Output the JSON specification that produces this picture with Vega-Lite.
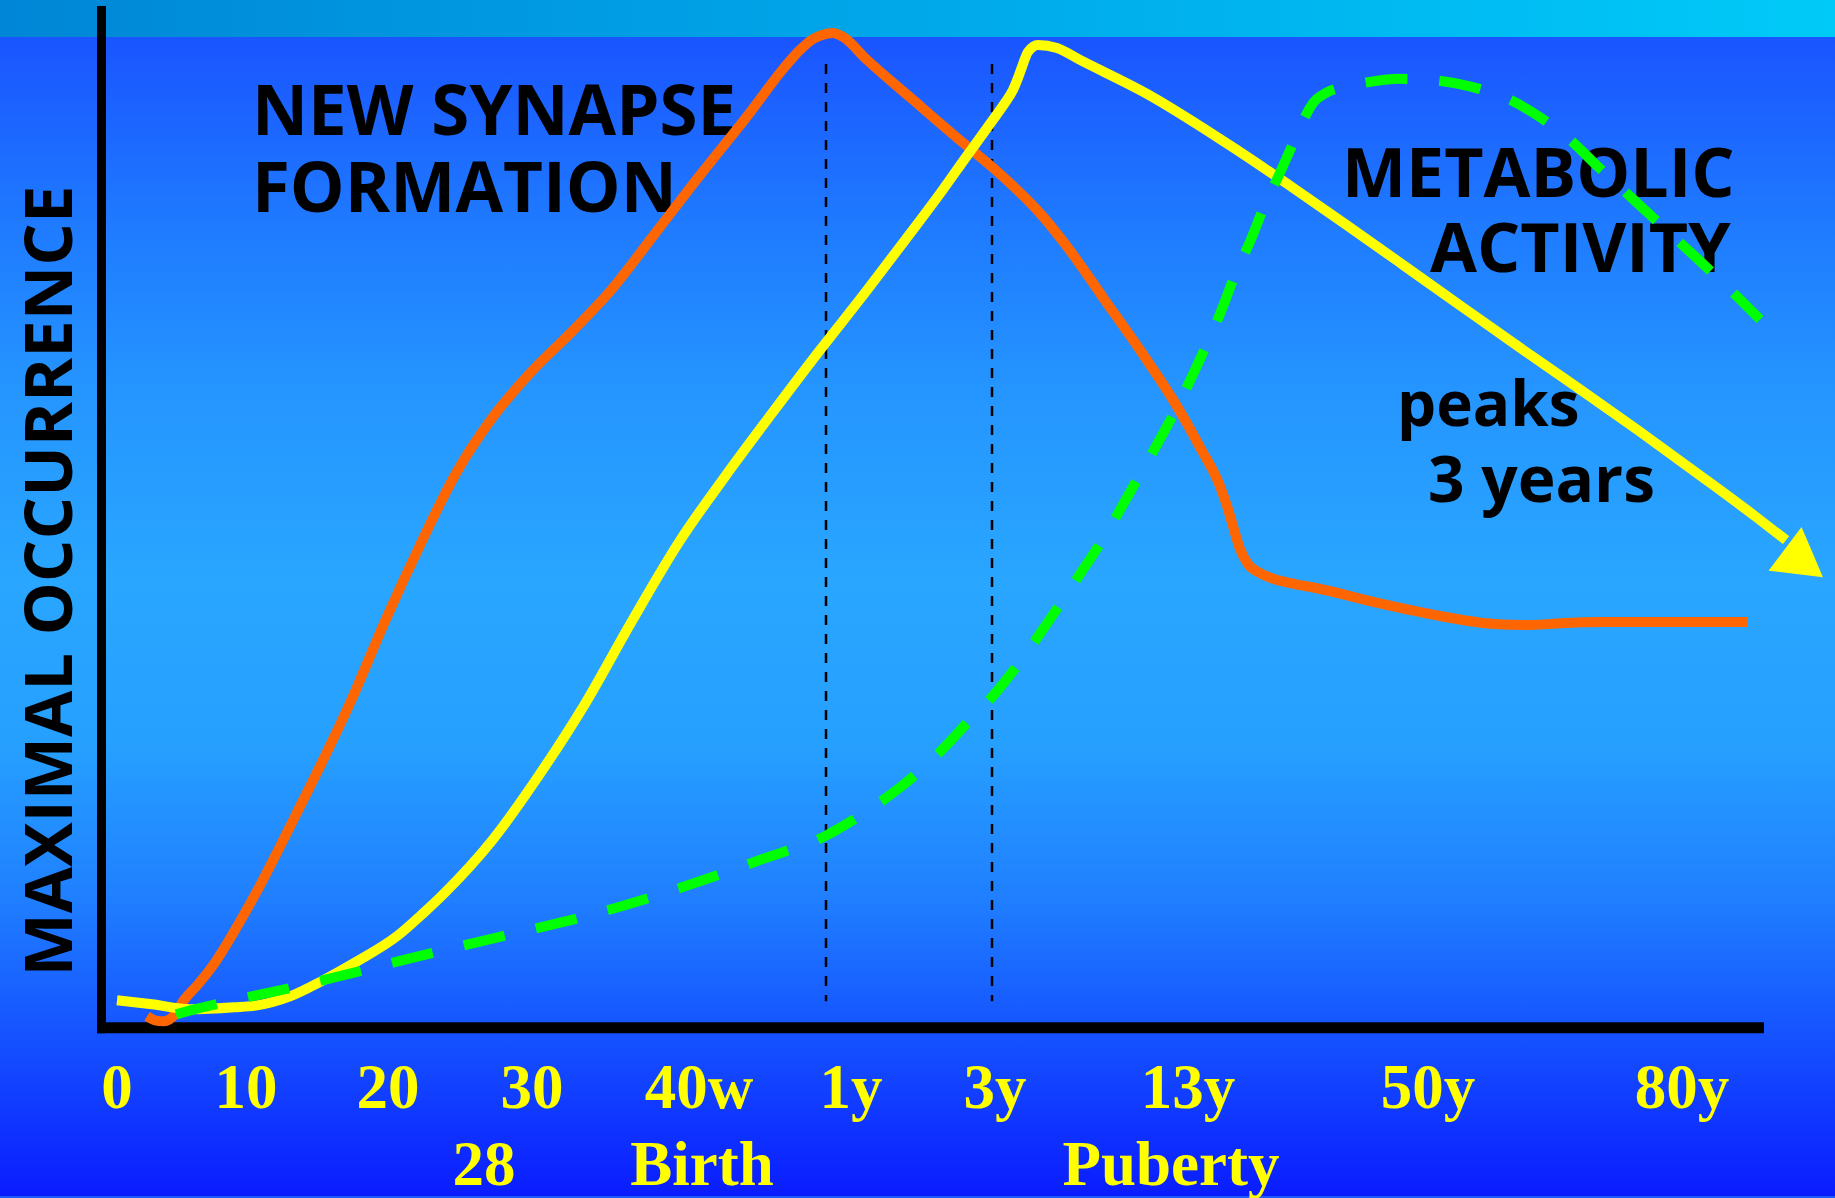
{
  "$schema": "https://vega.github.io/schema/vega-lite/v6.json",
  "width": 1835,
  "height": 1198,
  "autosize": {"type": "fit", "contains": "padding"},
  "padding": 0,
  "background": "#1a5aff",
  "config": {"view": {"stroke": null}, "axis": {"disable": true}},
  "datasets": {
    "orange": [
      {"x":147,"y":12},{"x":155,"y":8},{"x":164,"y":7},{"x":175,"y":14},{"x":183,"y":27},{"x":198,"y":44},{"x":213,"y":63},{"x":240,"y":107},{"x":260,"y":143},{"x":277,"y":176},{"x":293,"y":208},{"x":351,"y":328},{"x":386,"y":410},{"x":421,"y":486},{"x":456,"y":556},{"x":492,"y":611},{"x":527,"y":653},{"x":573,"y":699},{"x":609,"y":737},{"x":655,"y":796},{"x":702,"y":857},{"x":749,"y":916},{"x":784,"y":962},{"x":800,"y":980},{"x":813,"y":991},{"x":822,"y":995},{"x":833,"y":997},{"x":843,"y":993},{"x":867,"y":970},{"x":913,"y":930},{"x":963,"y":887},{"x":993,"y":862},{"x":1043,"y":813},{"x":1070,"y":779},{"x":1103,"y":732},{"x":1143,"y":675},{"x":1177,"y":623},{"x":1200,"y":582},{"x":1220,"y":543},{"x":1228,"y":520},{"x":1233,"y":503},{"x":1240,"y":480},{"x":1248,"y":465},{"x":1260,"y":456},{"x":1274,"y":450},{"x":1295,"y":445},{"x":1316,"y":441},{"x":1378,"y":426},{"x":1440,"y":413},{"x":1494,"y":405},{"x":1530,"y":404},{"x":1565,"y":406},{"x":1600,"y":407},{"x":1747,"y":407}
    ],
    "yellow": [
      {"x":117,"y":28},{"x":152,"y":24},{"x":190,"y":19},{"x":234,"y":21},{"x":257,"y":23},{"x":290,"y":32},{"x":323,"y":48},{"x":357,"y":67},{"x":398,"y":93},{"x":423,"y":115},{"x":445,"y":136},{"x":492,"y":188},{"x":538,"y":252},{"x":585,"y":325},{"x":632,"y":408},{"x":679,"y":487},{"x":726,"y":554},{"x":772,"y":616},{"x":819,"y":678},{"x":866,"y":738},{"x":907,"y":792},{"x":940,"y":836},{"x":967,"y":874},{"x":993,"y":910},{"x":1005,"y":927},{"x":1013,"y":940},{"x":1018,"y":952},{"x":1022,"y":963},{"x":1028,"y":978},{"x":1038,"y":985},{"x":1057,"y":982},{"x":1080,"y":970},{"x":1147,"y":936},{"x":1229,"y":885},{"x":1287,"y":846},{"x":1346,"y":805},{"x":1404,"y":764},{"x":1463,"y":722},{"x":1521,"y":681},{"x":1580,"y":640},{"x":1638,"y":599},{"x":1697,"y":556},{"x":1755,"y":513},{"x":1786,"y":489}
    ],
    "green": [
      {"x":176,"y":14},{"x":187,"y":17},{"x":234,"y":28},{"x":293,"y":41},{"x":351,"y":55},{"x":410,"y":70},{"x":468,"y":84},{"x":527,"y":98},{"x":585,"y":112},{"x":644,"y":129},{"x":702,"y":148},{"x":761,"y":169},{"x":826,"y":193},{"x":866,"y":217},{"x":901,"y":242},{"x":936,"y":273},{"x":971,"y":310},{"x":993,"y":333},{"x":1020,"y":367},{"x":1050,"y":410},{"x":1080,"y":455},{"x":1103,"y":490},{"x":1130,"y":537},{"x":1156,"y":583},{"x":1177,"y":622},{"x":1199,"y":668},{"x":1221,"y":718},{"x":1236,"y":757},{"x":1250,"y":788},{"x":1265,"y":825},{"x":1280,"y":857},{"x":1296,"y":893},{"x":1306,"y":915},{"x":1314,"y":928},{"x":1326,"y":937},{"x":1345,"y":943},{"x":1370,"y":948},{"x":1399,"y":951},{"x":1430,"y":950},{"x":1472,"y":943},{"x":1510,"y":930},{"x":1541,"y":912},{"x":1570,"y":890},{"x":1598,"y":863},{"x":1625,"y":838},{"x":1652,"y":813},{"x":1680,"y":787},{"x":1709,"y":760},{"x":1735,"y":735},{"x":1760,"y":710}
    ],
    "ticks": [
      {"label":"0","pos":117,"row":1},{"label":"10","pos":246,"row":1},{"label":"20","pos":388,"row":1},{"label":"30","pos":532,"row":1},{"label":"40w","pos":699,"row":1},{"label":"1y","pos":851,"row":1},{"label":"3y","pos":995,"row":1},{"label":"13y","pos":1188,"row":1},{"label":"50y","pos":1428,"row":1},{"label":"80y","pos":1682,"row":1},
      {"label":"28","pos":484,"row":2},{"label":"Birth","pos":702,"row":2},{"label":"Puberty","pos":1171,"row":2}
    ],
    "markers": [{"pos":826,"event":"1y"},{"pos":992,"event":"3y"}]
  },
  "layer": [
    {
      "data": {"values": [{"part": "main"}]},
      "mark": {"type": "rect", "fill": {"gradient": "linear", "x1": 0, "y1": 0, "x2": 0, "y2": 1, "stops": [
        {"offset": 0, "color": "#1a55ff"},
        {"offset": 0.17, "color": "#1f7cff"},
        {"offset": 0.31, "color": "#2596ff"},
        {"offset": 0.47, "color": "#29a6ff"},
        {"offset": 0.61, "color": "#26a0ff"},
        {"offset": 0.74, "color": "#2080ff"},
        {"offset": 0.855, "color": "#1655ff"},
        {"offset": 1, "color": "#0a1cff"}
      ]}},
      "encoding": {
        "x": {"datum": 0, "type": "quantitative", "scale": {"domain": [0, 1835], "nice": false, "zero": false}, "axis": null},
        "x2": {"datum": 1835},
        "y": {"datum": -168, "type": "quantitative", "scale": {"domain": [-168, 1030], "nice": false, "zero": false}, "axis": null},
        "y2": {"datum": 993}
      }
    },
    {
      "data": {"values": [{"part": "top"}]},
      "mark": {"type": "rect", "fill": {"gradient": "linear", "x1": 0, "y1": 0, "x2": 1, "y2": 0, "stops": [
        {"offset": 0, "color": "#0086d6"},
        {"offset": 0.5, "color": "#00a8ea"},
        {"offset": 1, "color": "#00caf8"}
      ]}},
      "encoding": {
        "x": {"datum": 0, "type": "quantitative"},
        "x2": {"datum": 1835},
        "y": {"datum": 993, "type": "quantitative"},
        "y2": {"datum": 1030}
      }
    },
    {
      "data": {"values": [{"t": "NEW SYNAPSE"}]},
      "mark": {"type": "text", "text": ["NEW SYNAPSE", "FORMATION"], "lineHeight": 77, "font": "Open Sans", "fontWeight": "bold", "fontSize": 69, "align": "left", "baseline": "alphabetic", "color": "#000000"},
      "encoding": {"x": {"datum": 252, "type": "quantitative"}, "y": {"datum": 895, "type": "quantitative"}}
    },
    {
      "data": {"values": [{"t": "METABOLIC"}]},
      "mark": {"type": "text", "font": "Open Sans", "fontWeight": "bold", "fontSize": 68, "align": "left", "baseline": "alphabetic", "color": "#000000"},
      "encoding": {"x": {"datum": 1342, "type": "quantitative"}, "y": {"datum": 833, "type": "quantitative"}, "text": {"field": "t"}}
    },
    {
      "data": {"values": [{"t": "ACTIVITY"}]},
      "mark": {"type": "text", "font": "Open Sans", "fontWeight": "bold", "fontSize": 68, "align": "left", "baseline": "alphabetic", "color": "#000000"},
      "encoding": {"x": {"datum": 1430, "type": "quantitative"}, "y": {"datum": 758, "type": "quantitative"}, "text": {"field": "t"}}
    },
    {
      "data": {"values": [{"t": "peaks"}]},
      "mark": {"type": "text", "font": "Open Sans", "fontWeight": "bold", "fontSize": 62, "align": "left", "baseline": "alphabetic", "color": "#000000"},
      "encoding": {"x": {"datum": 1397, "type": "quantitative"}, "y": {"datum": 603, "type": "quantitative"}, "text": {"field": "t"}}
    },
    {
      "data": {"values": [{"t": "3 years"}]},
      "mark": {"type": "text", "font": "Open Sans", "fontWeight": "bold", "fontSize": 64, "align": "left", "baseline": "alphabetic", "color": "#000000"},
      "encoding": {"x": {"datum": 1428, "type": "quantitative"}, "y": {"datum": 527, "type": "quantitative"}, "text": {"field": "t"}}
    },
    {
      "data": {"values": [{"t": "MAXIMAL OCCURRENCE"}]},
      "mark": {"type": "text", "font": "Open Sans", "fontWeight": "bold", "fontSize": 67, "align": "center", "baseline": "alphabetic", "angle": 270, "color": "#000000"},
      "encoding": {"x": {"datum": 72, "type": "quantitative"}, "y": {"datum": 448, "type": "quantitative"}, "text": {"field": "t"}}
    },
    {
      "data": {"name": "ticks"},
      "transform": [{"filter": "datum.row == 1"}],
      "mark": {"type": "text", "font": "Liberation Serif", "fontWeight": "bold", "fontSize": 63, "align": "center", "baseline": "alphabetic", "color": "#ffff00"},
      "encoding": {"x": {"field": "pos", "type": "quantitative"}, "y": {"datum": -80, "type": "quantitative"}, "text": {"field": "label"}}
    },
    {
      "data": {"name": "ticks"},
      "transform": [{"filter": "datum.row == 2"}],
      "mark": {"type": "text", "font": "Liberation Serif", "fontWeight": "bold", "fontSize": 63, "align": "center", "baseline": "alphabetic", "color": "#ffff00"},
      "encoding": {"x": {"field": "pos", "type": "quantitative"}, "y": {"datum": -157, "type": "quantitative"}, "text": {"field": "label"}}
    },
    {
      "data": {"values": [{"axis": "y"}]},
      "mark": {"type": "rule", "color": "#000000", "strokeWidth": 9},
      "encoding": {"x": {"datum": 101.5, "type": "quantitative"}, "y": {"datum": 1024, "type": "quantitative"}, "y2": {"datum": -5}}
    },
    {
      "data": {"values": [{"axis": "x"}]},
      "mark": {"type": "rule", "color": "#000000", "strokeWidth": 11},
      "encoding": {"x": {"datum": 97, "type": "quantitative"}, "x2": {"datum": 1764}, "y": {"datum": 0.5, "type": "quantitative"}}
    },
    {
      "data": {"name": "markers"},
      "mark": {"type": "rule", "color": "#000000", "strokeWidth": 2.5, "strokeDash": [10, 9]},
      "encoding": {"x": {"field": "pos", "type": "quantitative"}, "y": {"datum": 966, "type": "quantitative"}, "y2": {"datum": 27}}
    },
    {
      "data": {"name": "orange"},
      "mark": {"type": "line", "color": "#ff6600", "strokeWidth": 10, "interpolate": "monotone"},
      "encoding": {"x": {"field": "x", "type": "quantitative"}, "y": {"field": "y", "type": "quantitative"}}
    },
    {
      "data": {"name": "yellow"},
      "mark": {"type": "line", "color": "#ffff00", "strokeWidth": 10, "interpolate": "monotone"},
      "encoding": {"x": {"field": "x", "type": "quantitative"}, "y": {"field": "y", "type": "quantitative"}}
    },
    {
      "data": {"values": [{"x": 1804, "y": 466}]},
      "mark": {"type": "point", "shape": "triangle-up", "size": 3000, "angle": 127, "filled": true, "color": "#ffff00", "opacity": 1},
      "encoding": {"x": {"field": "x", "type": "quantitative"}, "y": {"field": "y", "type": "quantitative"}}
    },
    {
      "data": {"name": "green"},
      "mark": {"type": "line", "color": "#00ff00", "strokeWidth": 10, "strokeDash": [42, 32], "interpolate": "monotone"},
      "encoding": {"x": {"field": "x", "type": "quantitative"}, "y": {"field": "y", "type": "quantitative"}}
    }
  ]
}
